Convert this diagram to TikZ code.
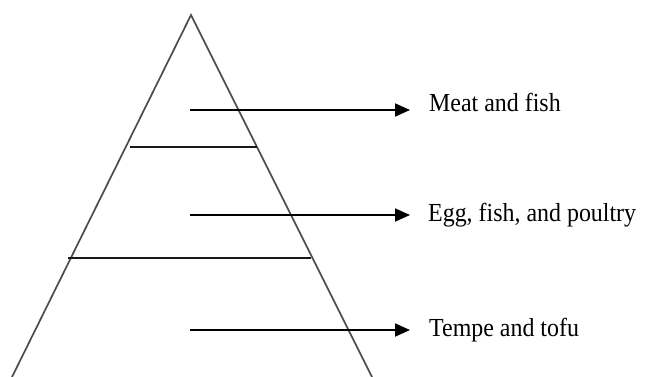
\documentclass[tikz,border=0pt]{standalone}
\usepackage{fontspec}
\setmainfont{Liberation Serif}
\usetikzlibrary{arrows.meta}
\begin{document}
\begin{tikzpicture}[x=1pt,y=-1pt,
  side/.style={draw=black!70,line width=1.7pt},
  level/.style={draw=black!90,line width=1.6pt},
  pointer/.style={draw=black,line width=1.8pt,-{Triangle[length=15pt,width=13pt]}},
  label/.style={anchor=base west,inner xsep=0pt,inner ysep=0pt,font=\fontsize{26}{30}\selectfont}]
\useasboundingbox (0,0) rectangle (645,376);
\coordinate (bl) at (12,377);
\coordinate (apex) at (191,15);
\coordinate (br) at (372,377);
\draw[side] (bl) -- (apex) -- (br);
\coordinate (l1a) at (130,147); \coordinate (l1b) at (257,147);
\coordinate (l2a) at (68,258); \coordinate (l2b) at (311,258);
\draw[level] (l1a) -- (l1b);
\draw[level] (l2a) -- (l2b);
\node[label] (t1) at (429,111) {\scalebox{0.92}[1]{Meat and fish}};
\node[label] (t2) at (428,221) {\scalebox{0.92}[1]{Egg, fish, and poultry}};
\node[label] (t3) at (429,336) {\scalebox{0.92}[1]{Tempe and tofu}};
\coordinate (a1) at (190,110); \coordinate (e1) at (410,110);
\coordinate (a2) at (190,215); \coordinate (e2) at (410,215);
\coordinate (a3) at (190,330); \coordinate (e3) at (410,330);
\draw[pointer] (a1) -- (e1);
\draw[pointer] (a2) -- (e2);
\draw[pointer] (a3) -- (e3);
\end{tikzpicture}
\end{document}
